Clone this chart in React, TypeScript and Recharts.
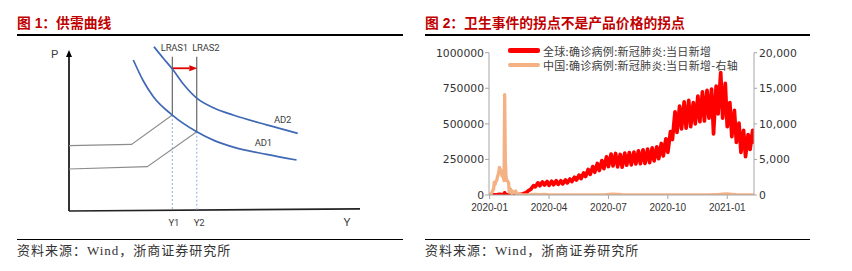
import React from 'react';
import { LineChart, Line, XAxis, YAxis, ReferenceLine, ReferenceDot, Legend } from 'recharts';

// ---------- Figure 1: supply / demand schematic (abstract units: Q 0-100, P 0-110) ----------
const ad1Q = [22.1, 25.5, 29.0, 35.5, 43.9, 50.0, 56.5, 67.9, 78.2];
const ad1P = [93.3, 80.5, 70.6, 59.3, 49.0, 43.5, 39.5, 35.0, 31.5];
const ad2Q = [29.2, 32.4, 35.8, 39.5, 43.9, 50.0, 56.4, 67.9, 78.6];
const ad2P = [101.5, 94.4, 87.1, 78.0, 69.7, 63.5, 59.3, 53.2, 48.0];
const sras1Q = [0, 21.5, 35.5];
const sras1P = [40.4, 41.2, 59.3];
const sras2Q = [0, 26.9, 43.9];
const sras2P = [26.0, 27.4, 49.0];
const lrasQ = [35.5, 43.9];
const lrasTopP = 95.4;
const lrasBottomP = [59.3, 49.0];
const shiftArrowP = 88.2;
const shiftArrowQ = [35.5, 44.1];
const pAxisTop = 99.5;
const lrasLabels = ['LRAS1', 'LRAS2'];
const lrasLabelQ = [36.2, 47.0];
const yLabels = ['Y1', 'Y2'];
const yLabelQ = [36.0, 44.7];
const adLabels = ['AD1', 'AD2'];
const adLabelQ = [66.8, 73.4];
const adLabelP = [42.2, 56.7];

// ---------- Figure 2: COVID-19 daily new cases ----------
// day 0 = 2020-01-20
const xTickDays = [0, 91, 182, 273, 364];
const xTickLabels = ['2020-01', '2020-04', '2020-07', '2020-10', '2021-01'];
const leftTicks = [0, 250000, 500000, 750000, 1000000];
const rightTicks = [0, 5000, 10000, 15000, 20000];

// global: early days (Jan 20 - Mar 8, 2020)
const globalEarlyDays = [0, 4, 8, 12, 15, 19, 22, 23, 24, 26, 29, 33, 36, 40, 43, 47];
const globalEarlyCases = [80, 1300, 1500, 2600, 3900, 2700, 2100, 15200, 5100, 2100, 1900, 700, 500, 1500, 1900, 4000];
// global: weekly readings from Mon 2020-03-09 (day 49): Monday low, Friday high
const weekFirstDay = 49;
const weekMonLow = [
  4000, 16000, 40000, 58000, 65000, 70000, 68000, 72000, 75000, 78000,
  85000, 95000, 105000, 115000, 130000, 145000, 160000, 172000, 185000, 200000,
  205000, 198000, 195000, 210000, 212000, 218000, 220000, 222000, 228000, 240000,
  255000, 275000, 300000, 390000, 440000, 465000, 470000, 480000, 500000, 515000,
  520000, 540000, 430000, 570000, 540000, 480000, 410000, 370000, 300000, 270000,
  320000,
];
const weekFriHigh = [
  12000, 33000, 65000, 85000, 92000, 95000, 97000, 100000, 100000, 106000,
  112000, 125000, 140000, 155000, 180000, 200000, 222000, 242000, 268000, 288000,
  292000, 285000, 295000, 298000, 302000, 310000, 318000, 322000, 332000, 338000,
  362000, 395000, 445000, 585000, 625000, 655000, 665000, 650000, 695000, 725000,
  735000, 745000, 765000, 860000, 785000, 650000, 595000, 505000, 455000, 425000,
  455000,
];
const globalLastDay = 405;
const globalLastCases = 360000;

const chinaDays = [
  0, 1, 2, 3, 4, 5, 6, 7, 8, 9, 10, 11, 12, 13, 14, 15, 16, 17, 18, 19, 20, 21, 22, 23, 24,
  25, 26, 27, 28, 29, 30, 31, 32, 33, 34, 35, 36, 37, 38, 39, 40, 41, 42, 43, 44, 45, 46, 47, 48, 49,
  56, 63, 70, 77, 84, 91, 98, 105, 112, 119, 126, 133, 140, 147, 154, 161, 168, 175, 182, 189,
  196, 203, 210, 217, 224, 231, 238, 245, 252, 259, 266, 273, 280, 287, 294, 301, 308, 315, 322, 329,
  336, 343, 350, 357, 364, 371, 378, 385, 392, 399, 405,
];
const chinaCases = [
  77, 149, 131, 259, 444, 688, 769, 1771, 1459, 1737, 1981, 2099, 2589, 2825, 3235, 3884, 3694, 3143, 3385, 2652, 2973, 2467, 2015, 14108, 5090,
  2641, 2009, 2048, 1886, 1749, 391, 889, 823, 648, 214, 508, 406, 433, 327, 427, 573, 202, 125, 119, 139, 143, 99, 44, 40, 19,
  30, 40, 70, 50, 90, 12, 5, 4, 10, 6, 5, 20, 30, 15, 20, 10, 15, 30, 80, 120,
  100, 40, 20, 15, 10, 12, 10, 15, 20, 25, 30, 20, 25, 20, 25, 15, 20, 15, 20, 15,
  20, 40, 60, 130, 150, 100, 50, 20, 12, 10, 8,
];

const seriesNames = ['全球:确诊病例:新冠肺炎:当日新增', '中国:确诊病例:新冠肺炎:当日新增-右轴'];

const toPts = (qs: number[], ps: number[]) => qs.map((q, i) => ({ q, p: ps[i] }));
const globalData = [
  ...globalEarlyDays.map((day, i) => ({ day, v: globalEarlyCases[i] })),
  ...weekMonLow.flatMap((low, k) => {
    const d = weekFirstDay + 7 * k;
    return [
      { day: d, v: low },
      { day: d + 4, v: weekFriHigh[k] },
    ];
  }),
  { day: globalLastDay, v: globalLastCases },
];
const chinaData = chinaDays.map((day, i) => ({ day, v: chinaCases[i] }));

const labelFont = 'Roboto, "Liberation Sans", sans-serif';
const cjk = '"Noto Sans CJK SC", sans-serif';
const axisGray = '#A6A6A6';

function arrowShape(color: string, width: number, headLen: number, headHalf: number) {
  return (props: any) => {
    const { x1, y1, x2, y2 } = props;
    const dx = x2 - x1;
    const dy = y2 - y1;
    const len = Math.hypot(dx, dy) || 1;
    const ux = dx / len;
    const uy = dy / len;
    const bx = x2 - ux * headLen;
    const by = y2 - uy * headLen;
    const pts = `${x2},${y2} ${bx - uy * headHalf},${by + ux * headHalf} ${bx + uy * headHalf},${by - ux * headHalf}`;
    return (
      <g>
        <line x1={x1} y1={y1} x2={bx} y2={by} stroke={color} strokeWidth={width} />
        <polygon points={pts} fill={color} />
      </g>
    );
  };
}

const textLabel = (value: string, size = 9.5) => ({
  value,
  position: 'center' as const,
  fill: '#404040',
  fontSize: size,
  fontFamily: labelFont,
  letterSpacing: -0.2,
});

function SupplyDemand() {
  return (
    <LineChart width={420} height={271} margin={{ top: 33, right: 60, bottom: 60, left: 69 }}>
      <XAxis type="number" dataKey="q" domain={[0, 100]} hide allowDataOverflow />
      <YAxis type="number" domain={[0, 110]} hide allowDataOverflow />
      <ReferenceLine segment={[{ x: 0, y: 0 }, { x: 0, y: pAxisTop }]} ifOverflow="visible"
        shape={arrowShape('#000', 1.6, 7, 3)} />
      <ReferenceLine segment={[{ x: 0, y: 0 }, { x: 100, y: 1.3 }]} ifOverflow="visible" stroke="#222" strokeWidth={1.6} />
      {lrasQ.map((q, i) => (
        <ReferenceLine key={'d' + i} segment={[{ x: q, y: lrasBottomP[i] }, { x: q, y: 0 }]} ifOverflow="visible"
          stroke="#8FB0E0" strokeWidth={1} strokeDasharray="2 2" />
      ))}
      {lrasQ.map((q, i) => (
        <ReferenceLine key={'l' + i} segment={[{ x: q, y: lrasTopP }, { x: q, y: lrasBottomP[i] }]} ifOverflow="visible"
          stroke="#595959" strokeWidth={1.1} />
      ))}
      <ReferenceLine segment={[{ x: shiftArrowQ[0], y: shiftArrowP }, { x: shiftArrowQ[1], y: shiftArrowP }]} ifOverflow="visible"
        shape={arrowShape('#E00000', 1.8, 8, 3)} />
      <Line data={toPts(sras1Q, sras1P)} dataKey="p" type="linear" stroke="#8C8C8C" strokeWidth={1.1} dot={false} isAnimationActive={false} />
      <Line data={toPts(sras2Q, sras2P)} dataKey="p" type="linear" stroke="#8C8C8C" strokeWidth={1.1} dot={false} isAnimationActive={false} />
      <Line data={toPts(ad1Q, ad1P)} dataKey="p" type="monotone" stroke="#3F69B5" strokeWidth={1.7} dot={false} isAnimationActive={false} />
      <Line data={toPts(ad2Q, ad2P)} dataKey="p" type="monotone" stroke="#3F69B5" strokeWidth={1.7} dot={false} isAnimationActive={false} />
      {lrasLabels.map((t, i) => (
        <ReferenceDot key={t} x={lrasLabelQ[i]} y={100.9} r={0} ifOverflow="visible" label={textLabel(t)} />
      ))}
      {yLabels.map((t, i) => (
        <ReferenceDot key={t} x={yLabelQ[i]} y={-7.2} r={0} ifOverflow="visible" label={textLabel(t)} />
      ))}
      {adLabels.map((t, i) => (
        <ReferenceDot key={t} x={adLabelQ[i]} y={adLabelP[i]} r={0} ifOverflow="visible" label={textLabel(t)} />
      ))}
      <ReferenceDot x={-5} y={97} r={0} ifOverflow="visible" label={textLabel('P', 11.5)} />
      <ReferenceDot x={95.5} y={-6.8} r={0} ifOverflow="visible" label={textLabel('Y', 11.5)} />
    </LineChart>
  );
}

const renderLegend = (props: any) => {
  const items = [...(props.payload || [])].sort(
    (a: any, b: any) => seriesNames.indexOf(a.value) - seriesNames.indexOf(b.value),
  );
  return (
    <div style={{ display: 'flex', flexDirection: 'column' }}>
      {items.map((e: any) => (
        <div key={e.value} style={{ display: 'flex', alignItems: 'center', height: 14.3 }}>
          <span style={{ display: 'inline-block', width: 32, height: 4.5, background: e.color, borderRadius: 2, marginRight: 3 }} />
          <span style={{ fontSize: 11, color: '#404040', fontFamily: cjk, letterSpacing: 0.3, whiteSpace: 'nowrap', lineHeight: '14px' }}>
            {e.value}
          </span>
        </div>
      ))}
    </div>
  );
};

function CovidChart() {
  return (
    <LineChart width={396} height={240} margin={{ top: 52.7, right: 12, bottom: 15, left: 9 }}>
      <XAxis type="number" dataKey="day" domain={[-1, 405]} ticks={xTickDays} interval={0} allowDataOverflow
        tickFormatter={(d: number) => xTickLabels[xTickDays.indexOf(d)]}
        height={30} tickSize={4} tickMargin={5}
        axisLine={{ stroke: axisGray }} tickLine={{ stroke: axisGray }}
        tick={{ fill: '#333', fontSize: 10, fontFamily: '"Liberation Sans", Arial, sans-serif' }} />
      <YAxis yAxisId="left" width={60} domain={[0, 1000000]} ticks={leftTicks} interval={0} allowDataOverflow
        tickFormatter={(v: number) => String(v)} tickSize={4} tickMargin={1}
        axisLine={{ stroke: axisGray }} tickLine={{ stroke: axisGray }}
        tick={{ fill: '#333', fontSize: 10.8, fontFamily: '"DejaVu Sans", sans-serif' }} />
      <YAxis yAxisId="right" orientation="right" width={50} domain={[0, 20000]} ticks={rightTicks} interval={0} allowDataOverflow
        tickFormatter={(v: number) => v.toLocaleString('en-US')} tickSize={3} tickMargin={2}
        axisLine={{ stroke: axisGray }} tickLine={{ stroke: axisGray }}
        tick={{ fill: '#333', fontSize: 10.8, fontFamily: '"DejaVu Sans", sans-serif' }} />
      <Line yAxisId="left" data={globalData} dataKey="v" name={seriesNames[0]} type="linear" stroke="#FF0000"
        strokeWidth={3.7} strokeLinejoin="round" dot={false} isAnimationActive={false} />
      <Line yAxisId="right" data={chinaData} dataKey="v" name={seriesNames[1]} type="linear" stroke="#F4B183"
        strokeWidth={3.3} strokeLinejoin="round" dot={false} isAnimationActive={false} />
      <Legend layout="horizontal" verticalAlign="middle" align="center" content={renderLegend}
        wrapperStyle={{ left: 88, top: 43.5, width: 300, height: 30 }} />
    </LineChart>
  );
}

const titleStyle: React.CSSProperties = {
  position: 'absolute', top: 15.5, fontSize: 13.8, fontWeight: 700, color: '#C00000',
  fontFamily: '"Liberation Sans", ' + cjk, whiteSpace: 'nowrap', lineHeight: '16px',
};
const ruleStyle: React.CSSProperties = { position: 'absolute', height: 1.4, background: '#000' };
const sourceStyle: React.CSSProperties = {
  position: 'absolute', top: 243, fontSize: 13, color: '#333', letterSpacing: 1,
  fontFamily: '"Liberation Serif", ' + cjk, whiteSpace: 'nowrap', lineHeight: '16px',
};

export default function App() {
  return (
    <div style={{ position: 'absolute', left: 0, top: 0, width: 852, height: 271, background: '#fff', overflow: 'hidden' }}>
      <div style={{ ...titleStyle, left: 17 }}>图 1：供需曲线</div>
      <div style={{ ...titleStyle, left: 425 }}>图 2：卫生事件的拐点不是产品价格的拐点</div>
      <div style={{ ...ruleStyle, left: 17, width: 386, top: 34.3 }} />
      <div style={{ ...ruleStyle, left: 425, width: 385, top: 34.3 }} />
      <div style={{ position: 'absolute', left: 0, top: 0 }}><SupplyDemand /></div>
      <div style={{ position: 'absolute', left: 420, top: 0 }}><CovidChart /></div>
      <div style={{ ...ruleStyle, left: 17, width: 386, top: 239 }} />
      <div style={{ ...ruleStyle, left: 425, width: 385, top: 239 }} />
      <div style={{ ...sourceStyle, left: 17 }}>资料来源：Wind，浙商证券研究所</div>
      <div style={{ ...sourceStyle, left: 425 }}>资料来源：Wind，浙商证券研究所</div>
    </div>
  );
}
